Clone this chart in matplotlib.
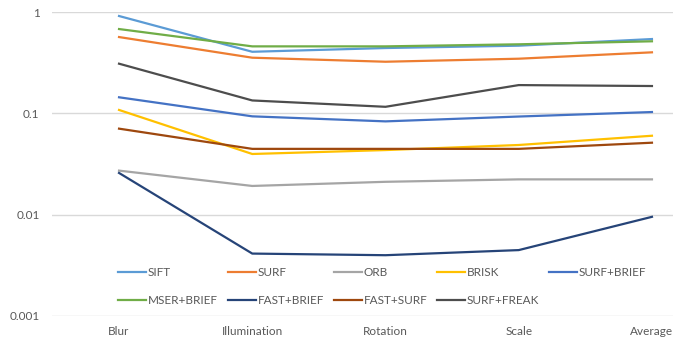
import matplotlib
matplotlib.use("Agg")
import matplotlib.pyplot as plt

plt.rcParams['font.family'] = ['Lato', 'DejaVu Sans']

categories = ["Blur", "Illumination", "Rotation", "Scale", "Average"]

sift       = [0.913, 0.405, 0.441, 0.465, 0.541]
surf       = [0.566, 0.354, 0.323, 0.346, 0.400]
orb        = [0.0272, 0.0192, 0.0211, 0.0223, 0.0223]
brisk      = [0.108, 0.0397, 0.0434, 0.0487, 0.0601]
surf_brief = [0.144, 0.0934, 0.0833, 0.0930, 0.103]
mser_brief = [0.679, 0.458, 0.458, 0.480, 0.514]
fast_brief = [0.0258, 0.00413, 0.00398, 0.00447, 0.00952]
fast_surf  = [0.0706, 0.0446, 0.0446, 0.0446, 0.0513]
surf_freak = [0.309, 0.134, 0.116, 0.190, 0.186]

series = [
    ("SIFT", sift, "#5B9BD5"),
    ("SURF", surf, "#ED7D31"),
    ("ORB", orb, "#A5A5A5"),
    ("BRISK", brisk, "#FFC000"),
    ("SURF+BRIEF", surf_brief, "#4472C4"),
    ("MSER+BRIEF", mser_brief, "#70AD47"),
    ("FAST+BRIEF", fast_brief, "#264478"),
    ("FAST+SURF", fast_surf, "#9E480E"),
    ("SURF+FREAK", surf_freak, "#4D4D4D"),
]

yticks = [0.001, 0.01, 0.1, 1]
ytick_labels = ["0.001", "0.01", "0.1", "1"]

fig = plt.figure(figsize=(6.73, 3.40), dpi=100)
ax = fig.add_axes([0.0773, 0.0706, 0.9227, 0.8941])

x = list(range(len(categories)))
handles = []
for name, vals, color in series:
    h, = ax.plot(x, vals, color=color, lw=1.6, label=name)
    handles.append(h)

ax.set_yscale('log')
ax.set_ylim(0.001, 1)
ax.set_xlim(-0.503, 4.158)
ax.set_yticks(yticks)
ax.set_yticklabels(ytick_labels)
ax.minorticks_off()
ax.set_xticks(x)
ax.set_xticklabels(categories)
ax.tick_params(axis='both', length=0, labelsize=8.5, labelcolor="#595959")
ax.tick_params(axis='x', pad=7)
ax.tick_params(axis='y', pad=9)
ax.grid(axis='y', color="#D9D9D9", lw=1)
ax.set_axisbelow(True)
for s in ax.spines.values():
    s.set_visible(False)

# legend laid out row by row in five columns
order = [0, 5, 1, 6, 2, 7, 3, 8, 4]
leg = ax.legend([handles[i] for i in order], [series[i][0] for i in order],
                ncol=5, loc='center', bbox_to_anchor=(0.568, 0.158),
                bbox_transform=fig.transFigure, frameon=False,
                fontsize=8.5, handlelength=2.35, handletextpad=0.15,
                columnspacing=0.85, labelspacing=1.45, labelcolor="#595959")

fig.savefig("out.png", dpi=100)
